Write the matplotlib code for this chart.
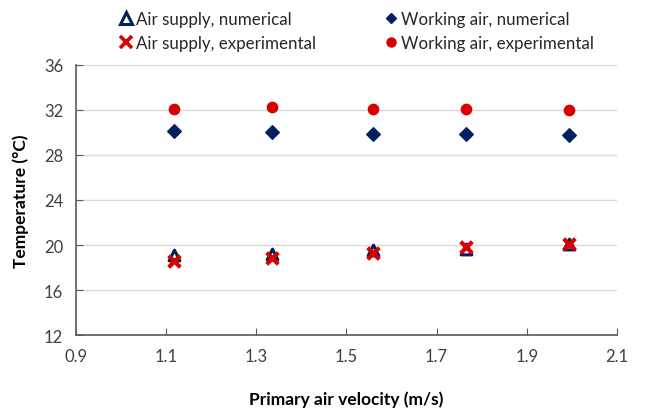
import matplotlib
matplotlib.use("Agg")
import matplotlib.pyplot as plt
from matplotlib.lines import Line2D

plt.rcParams['font.family'] = ['Lato', 'DejaVu Sans']

velocity = [1.118, 1.335, 1.559, 1.766, 1.993]
supply_num = [19.15, 19.25, 19.55, 19.65, 20.1]
supply_exp = [18.6, 18.85, 19.3, 19.82, 20.1]
working_num = [30.1, 30.0, 29.9, 29.85, 29.75]
working_exp = [32.1, 32.3, 32.1, 32.1, 31.95]

xticks = [0.9, 1.1, 1.3, 1.5, 1.7, 1.9, 2.1]
yticks = [12, 16, 20, 24, 28, 32, 36]

navy = '#002060'
red = '#D90000'

fig = plt.figure(figsize=(6.48, 4.14), dpi=100)
ax = fig.add_axes([0.117, 0.188, 0.835, 0.653])

ax.scatter(velocity, supply_num, marker='^', s=60, facecolor='white',
           edgecolor=navy, linewidth=2.2, zorder=3)
ax.scatter(velocity, working_num, marker='D', s=48, color=navy, zorder=3)
ax.scatter(velocity, supply_exp, marker='x', s=70, color=red,
           linewidth=3, zorder=4)
ax.scatter(velocity, working_exp, marker='o', s=55, color=red, zorder=3)

ax.set_xlim(0.9, 2.1)
ax.set_ylim(12, 36)
ax.set_xticks(xticks)
ax.set_yticks(yticks)
ax.set_xticklabels([f'{v:.1f}' for v in xticks])
ax.set_yticklabels([str(v) for v in yticks])
ax.yaxis.grid(True, color='#D9D9D9', linewidth=1)
ax.set_axisbelow(True)
for s in ['top', 'right']:
    ax.spines[s].set_visible(False)
for s in ['left', 'bottom']:
    ax.spines[s].set_color('#595959')
    ax.spines[s].set_linewidth(1.2)
ax.tick_params(axis='both', direction='in', length=5, color='#595959',
               labelsize=12, labelcolor='#404040', pad=9)

ax.set_xlabel('Primary air velocity (m/s)', fontsize=12.5, fontweight='bold',
              color='black', labelpad=19)
ax.set_ylabel('Temperature (°C)', fontsize=12.5, fontweight='bold',
              color='black', labelpad=11)

handles = [
    Line2D([], [], ls='none', marker='^', ms=9, mfc='white', mec=navy, mew=2.2,
           label='Air supply, numerical'),
    Line2D([], [], ls='none', marker='x', ms=8, mec=red, mew=2.6,
           label='Air supply, experimental'),
    Line2D([], [], ls='none', marker='D', ms=5.5, mfc=navy, mec=navy,
           label='Working air, numerical'),
    Line2D([], [], ls='none', marker='o', ms=6.5, mfc=red, mec=red,
           label='Working air, experimental'),
]
fig.legend(handles=handles, loc='upper left', ncol=2,
           bbox_to_anchor=(0.163, 1.0), frameon=False, fontsize=12.2,
           handletextpad=0.1, columnspacing=3.9, labelspacing=0.5,
           borderaxespad=0.3, handlelength=1.0, labelcolor='#262626')

fig.savefig('out.png', dpi=100)
